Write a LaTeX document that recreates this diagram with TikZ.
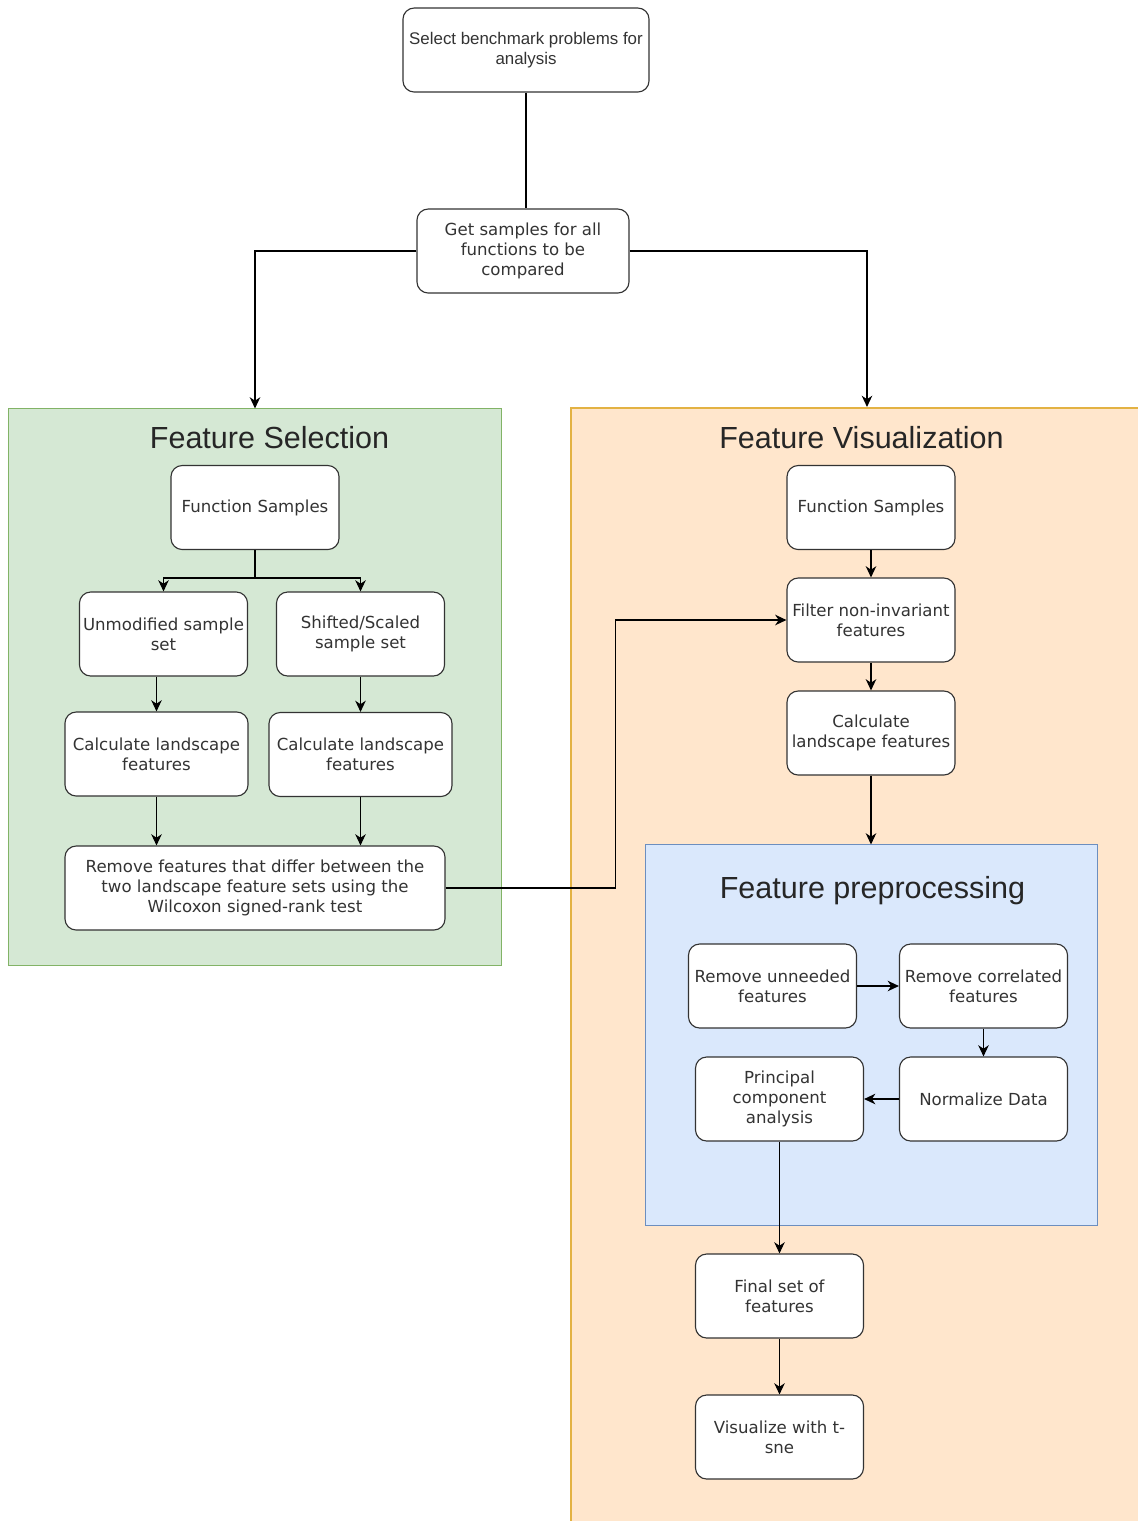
\documentclass[tikz,border=0pt]{standalone}
\usepackage{fontspec}
\setmainfont{DejaVu Sans}
\newfontfamily\arialfont{Liberation Sans}
\usetikzlibrary{arrows.meta}
\definecolor{selfill}{HTML}{D5E8D4}
\definecolor{seldraw}{HTML}{82B366}
\definecolor{visfill}{HTML}{FFE6CC}
\definecolor{visdraw}{HTML}{E3B243}
\definecolor{prefill}{HTML}{DAE8FC}
\definecolor{predraw}{HTML}{6C8EBF}

\begin{document}
\begin{tikzpicture}[x=0.025cm,y=-0.025cm,>={Stealth[length=8pt,width=7.5pt,inset=2.5pt]},
  stepbox/.style={draw=black!80,fill=white,rounded corners=0.28cm,line width=0.8pt,
    minimum width=4.2cm,minimum height=2.1cm,align=center,inner sep=1pt,
    font=\fontsize{11.8}{14.2}\selectfont,text=black!80},
  flow/.style={->,line width=0.8pt},
  grouptitle/.style={anchor=base,font=\arialfont\fontsize{21.7}{26}\selectfont,text=black!85}]
\useasboundingbox (0,0) rectangle (1138,1521);
\clip (0,0) rectangle (1138,1521);
\node[draw=seldraw,fill=selfill,line width=0.7pt,minimum width=12.3cm,minimum height=13.9cm] (selgroup) at (255,687) {};
\node[draw=visdraw,fill=visfill,line width=1.3pt,minimum width=15cm,minimum height=28.25cm] (visgroup) at (871,973) {};
\node[draw=predraw,fill=prefill,line width=0.7pt,minimum width=11.275cm,minimum height=9.5cm] (pregroup) at (871.5,1035) {};
\node[grouptitle] (seltitle) at (269.5,448) {Feature Selection};
\node[grouptitle] (vistitle) at (861.5,448) {Feature Visualization};
\node[grouptitle] (pretitle) at (872.5,898) {Feature preprocessing};
\node[stepbox,minimum width=6.15cm,font=\arialfont\fontsize{12}{14.2}\selectfont] (bench) at (526,50) {Select benchmark problems for\\analysis};
\node[stepbox,minimum width=5.3cm] (getsamp) at (523,251) {Get samples for all\\functions to be\\compared};
\node[stepbox] (selfs) at (255,507.5) {Function Samples};
\node[stepbox] (unmod) at (163.5,634) {Unmodified sample\\set};
\node[stepbox] (shifted) at (360.5,634) {Shifted/Scaled\\sample set};
\node[stepbox,minimum width=4.575cm] (calcl) at (156.5,754) {Calculate landscape\\features};
\node[stepbox,minimum width=4.575cm] (calcr) at (360.5,754.5) {Calculate landscape\\features};
\node[stepbox,minimum width=9.5cm] (wilcox) at (255,888) {Remove features that differ between the\\two landscape feature sets using the\\Wilcoxon signed-rank test};
\node[stepbox] (visfs) at (871,507.5) {Function Samples};
\node[stepbox] (filter) at (871,620) {Filter non-invariant\\features};
\node[stepbox] (viscalc) at (871,733) {Calculate\\landscape features};
\node[stepbox] (unneed) at (772.5,986) {Remove unneeded\\features};
\node[stepbox] (corr) at (983.5,986) {Remove correlated\\features};
\node[stepbox] (norm) at (983.5,1099) {Normalize Data};
\node[stepbox] (pca) at (779.5,1099) {Principal\\component\\analysis};
\node[stepbox] (final) at (779.5,1296) {Final set of\\features};
\node[stepbox] (tsne) at (779.5,1437) {Visualize with t-\\sne};
\coordinate (split) at (255,578);
\draw[line width=0.8pt] (bench.south) -- (bench.south |- getsamp.north);
\draw[flow] (getsamp.west) -| (selgroup.north);
\draw[flow] (getsamp.east) -| ([xshift=-0.1cm]visgroup.north);
\draw[flow] (selfs.south) -- (split) -| (unmod.north);
\draw[flow] (split) -| (shifted.north);
\draw[flow] (unmod.south -| calcl) -- (calcl.north);
\draw[flow] (shifted.south) -- (calcr.north);
\draw[flow] (calcl.south) -- (calcl.south |- wilcox.north);
\draw[flow] (calcr.south) -- (calcr.south |- wilcox.north);
\draw[flow] (wilcox.east) -- ++(170,0) |- (filter.west);
\draw[flow] (visfs) -- (filter);
\draw[flow] (filter) -- (viscalc);
\draw[flow] (viscalc.south) -- (viscalc.south |- pregroup.north);
\draw[flow] (unneed) -- (corr);
\draw[flow] (corr) -- (norm);
\draw[flow] (norm) -- (pca);
\draw[flow] (pca) -- (final);
\draw[flow] (final) -- (tsne);
\end{tikzpicture}
\end{document}
